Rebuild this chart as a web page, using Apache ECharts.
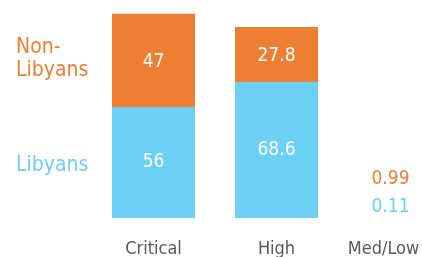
<!DOCTYPE html>
<html>
<head>
    <meta charset="utf-8" />
    <title>Libyans vs Non-Libyans</title>
    <script src="https://cdn.jsdelivr.net/npm/echarts@6/dist/echarts.min.js"></script>
    <style>
        html, body { margin: 0; padding: 0; background: #fff; }
        #chart { width: 422px; height: 257px; }
    </style>
</head>
<body>
    <div id="chart"></div>
    <script type="text/javascript">
        // data
        var categories = ['Critical', 'High', 'Med/Low'];
        var libyans = [56, 68.6, 0.11];
        var nonLibyans = [47, 27.8, 0.99];

        var orange = '#EE7F32';
        var blue = '#6CCFF6';
        var font = '"DejaVu Sans", sans-serif';
        var stretch = 'condensed'; // goes in front of the size in the canvas font string

        // the Med/Low bars are too small to see, only their numbers are shown
        function makeData(arr, color, outsideOffset) {
            return arr.map(function (v, i) {
                if (i < 2) return v;
                return {
                    value: v,
                    itemStyle: { color: 'rgba(0,0,0,0)' },
                    label: { position: 'top', color: color, offset: outsideOffset }
                };
            });
        }

        var myChart = echarts.init(document.getElementById('chart'));

        var labelFont = { fontSize: 19, fontFamily: font, fontStyle: stretch };

        var option = {
            animation: false,
            grid: { left: 92, top: 0, right: -39, bottom: 39, outerBoundsMode: 'none', containLabel: false },
            graphic: [
                {
                    type: 'text', left: 16, top: 36,
                    style: { text: 'Non-\nLibyans', fill: orange, font: stretch + ' 21px ' + font, lineHeight: 23 }
                },
                {
                    type: 'text', left: 16, top: 155,
                    style: { text: 'Libyans', fill: blue, font: stretch + ' 21px ' + font }
                }
            ],
            xAxis: {
                type: 'category',
                data: categories.map(function (c, i) {
                    return i < 2 ? c : { value: c, textStyle: { padding: [0, 32, 0, 0] } };
                }),
                axisLine: { show: false },
                axisTick: { show: false },
                axisLabel: {
                    color: '#595959', fontSize: 18, fontFamily: font, fontStyle: stretch,
                    margin: 21, lineHeight: 20
                }
            },
            yAxis: {
                type: 'value', min: 0, max: 110,
                show: false
            },
            series: [
                {
                    name: 'Libyans', type: 'bar', stack: 'all', barWidth: 83,
                    itemStyle: { color: blue },
                    label: Object.assign({ show: true, position: 'inside', color: '#fff' }, labelFont),
                    data: makeData(libyans, blue, [-9, 4])
                },
                {
                    name: 'Non-Libyans', type: 'bar', stack: 'all', barWidth: 83,
                    itemStyle: { color: orange },
                    label: Object.assign({ show: true, position: 'inside', color: '#fff', offset: [0, 2] }, labelFont),
                    data: makeData(nonLibyans, orange, [-9, -22])
                }
            ]
        };

        myChart.setOption(option);
    </script>
</body>
</html>
